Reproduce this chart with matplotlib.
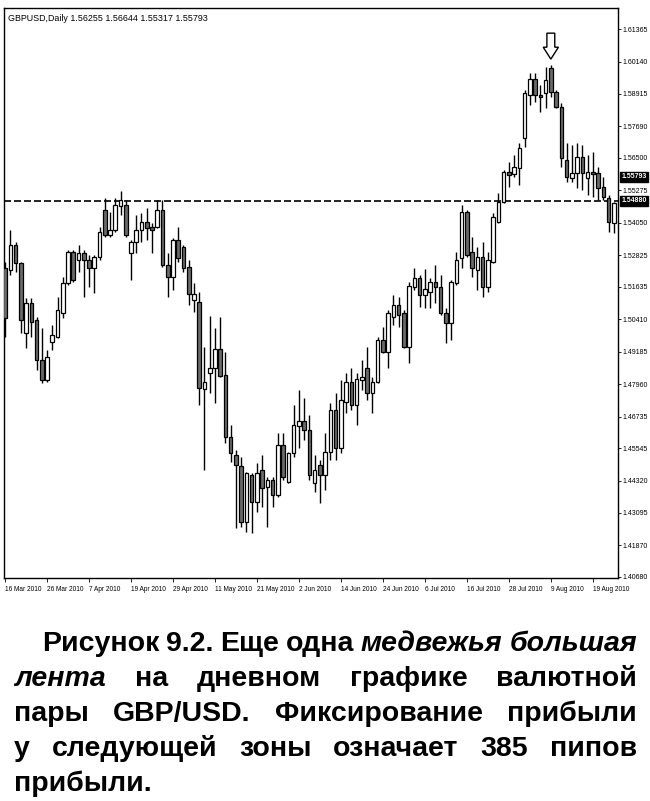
import numpy as np
import matplotlib
matplotlib.use('Agg')
import matplotlib.pyplot as plt

# GBPUSD daily bars, 16 Mar 2010 .. 24 Aug 2010
opens = [1.5234, 1.5227, 1.5321, 1.5253, 1.4989, 1.5102, 1.5038, 1.4887, 1.4811, 1.4955,
         1.4974, 1.5064, 1.5178, 1.5295, 1.5264, 1.5291, 1.5264, 1.5234, 1.5276, 1.5453,
         1.5359, 1.5378, 1.5468, 1.5472, 1.5291, 1.5332, 1.5378, 1.5408, 1.5389, 1.5389,
         1.5453, 1.5246, 1.5200, 1.5340, 1.5314, 1.5238, 1.5113, 1.5106, 1.4778, 1.4838,
         1.4857, 1.4929, 1.4830, 1.4596, 1.4528, 1.4487, 1.4275, 1.4453, 1.4351, 1.4472,
         1.4408, 1.4434, 1.4377, 1.4566, 1.4426, 1.4536, 1.4638, 1.4657, 1.4623, 1.4423,
         1.4491, 1.4453, 1.4540, 1.4698, 1.4555, 1.4728, 1.4804, 1.4717, 1.4811, 1.4857,
         1.4762, 1.4804, 1.4962, 1.4917, 1.5049, 1.5095, 1.5064, 1.4936, 1.5163, 1.5197,
         1.5132, 1.5144, 1.5181, 1.5163, 1.5064, 1.5027, 1.5178, 1.5272, 1.5446, 1.5295,
         1.5227, 1.5276, 1.5163, 1.5257, 1.5408, 1.5483, 1.5597, 1.5589, 1.5612, 1.5725,
         1.5887, 1.5948, 1.5887, 1.5895, 1.5989, 1.5899, 1.5842, 1.5642, 1.5574, 1.5593,
         1.5653, 1.5574, 1.5597, 1.5593, 1.5540, 1.5499, 1.5404]
highs = [1.5257, 1.5378, 1.5332, 1.5257, 1.5121, 1.5121, 1.5049, 1.5008, 1.4925, 1.5019,
         1.5125, 1.5200, 1.5302, 1.5302, 1.5321, 1.5302, 1.5283, 1.5283, 1.5389, 1.5499,
         1.5446, 1.5499, 1.5525, 1.5491, 1.5340, 1.5434, 1.5442, 1.5461, 1.5404, 1.5491,
         1.5491, 1.5291, 1.5348, 1.5389, 1.5321, 1.5264, 1.5178, 1.5144, 1.4936, 1.5053,
         1.5008, 1.5049, 1.4917, 1.4642, 1.4547, 1.4521, 1.4464, 1.4460, 1.4498, 1.4528,
         1.4445, 1.4445, 1.4611, 1.4611, 1.4540, 1.4717, 1.4774, 1.4744, 1.4679, 1.4528,
         1.4509, 1.4611, 1.4725, 1.4762, 1.4811, 1.4838, 1.4857, 1.4838, 1.4887, 1.4936,
         1.4823, 1.4974, 1.5012, 1.5076, 1.5132, 1.5125, 1.5076, 1.5181, 1.5234, 1.5208,
         1.5231, 1.5197, 1.5246, 1.5208, 1.5083, 1.5189, 1.5295, 1.5472, 1.5453, 1.5351,
         1.5314, 1.5332, 1.5295, 1.5442, 1.5517, 1.5604, 1.5634, 1.5661, 1.5706, 1.5906,
         1.5970, 1.5970, 1.5925, 1.5993, 1.6001, 1.5906, 1.5857, 1.5706, 1.5699, 1.5706,
         1.5699, 1.5661, 1.5672, 1.5616, 1.5578, 1.5510, 1.5483]
lows = [1.4974, 1.5208, 1.5219, 1.4989, 1.4932, 1.4974, 1.4849, 1.4800, 1.4804, 1.4925,
        1.4970, 1.5046, 1.5170, 1.5181, 1.5219, 1.5125, 1.5163, 1.5140, 1.5264, 1.5351,
        1.5351, 1.5370, 1.5434, 1.5351, 1.5189, 1.5291, 1.5332, 1.5340, 1.5291, 1.5385,
        1.5238, 1.5125, 1.5151, 1.5257, 1.5219, 1.5095, 1.5068, 1.4717, 1.4472, 1.4762,
        1.4725, 1.4823, 1.4574, 1.4502, 1.4253, 1.4257, 1.4238, 1.4234, 1.4313, 1.4332,
        1.4257, 1.4332, 1.4370, 1.4434, 1.4423, 1.4521, 1.4555, 1.4585, 1.4434, 1.4389,
        1.4347, 1.4396, 1.4509, 1.4509, 1.4536, 1.4687, 1.4698, 1.4642, 1.4774, 1.4736,
        1.4687, 1.4800, 1.4913, 1.4857, 1.5019, 1.5012, 1.4932, 1.4876, 1.5151, 1.5087,
        1.5083, 1.5083, 1.5102, 1.5057, 1.4951, 1.4962, 1.5170, 1.5234, 1.5276, 1.5200,
        1.5151, 1.5125, 1.5144, 1.5253, 1.5404, 1.5480, 1.5540, 1.5578, 1.5548, 1.5691,
        1.5850, 1.5861, 1.5823, 1.5838, 1.5880, 1.5838, 1.5616, 1.5559, 1.5559, 1.5536,
        1.5529, 1.5510, 1.5502, 1.5491, 1.5491, 1.5370, 1.5366]
closes = [1.5046, 1.5321, 1.5253, 1.5038, 1.5102, 1.5030, 1.4887, 1.4811, 1.4898, 1.4981,
          1.5076, 1.5178, 1.5295, 1.5189, 1.5291, 1.5264, 1.5234, 1.5276, 1.5370, 1.5359,
          1.5378, 1.5472, 1.5491, 1.5359, 1.5332, 1.5378, 1.5408, 1.5385, 1.5378, 1.5453,
          1.5246, 1.5200, 1.5340, 1.5272, 1.5234, 1.5136, 1.5136, 1.4781, 1.4804, 1.4857,
          1.4929, 1.4827, 1.4596, 1.4536, 1.4491, 1.4275, 1.4460, 1.4351, 1.4460, 1.4404,
          1.4434, 1.4377, 1.4566, 1.4445, 1.4536, 1.4642, 1.4657, 1.4623, 1.4453, 1.4472,
          1.4453, 1.4540, 1.4698, 1.4555, 1.4736, 1.4804, 1.4717, 1.4815, 1.4823, 1.4762,
          1.4804, 1.4962, 1.4917, 1.5064, 1.5095, 1.5057, 1.4936, 1.5166, 1.5197, 1.5132,
          1.5155, 1.5181, 1.5163, 1.5064, 1.5027, 1.5181, 1.5264, 1.5446, 1.5283, 1.5234,
          1.5276, 1.5163, 1.5264, 1.5427, 1.5483, 1.5597, 1.5585, 1.5616, 1.5687, 1.5895,
          1.5948, 1.5887, 1.5880, 1.5944, 1.5899, 1.5842, 1.5650, 1.5578, 1.5593, 1.5653,
          1.5593, 1.5597, 1.5589, 1.5536, 1.5502, 1.5408, 1.5480]

date_labels = ['16 Mar 2010', '26 Mar 2010', '7 Apr 2010', '19 Apr 2010', '29 Apr 2010',
               '11 May 2010', '21 May 2010', '2 Jun 2010', '14 Jun 2010', '24 Jun 2010',
               '6 Jul 2010', '16 Jul 2010', '28 Jul 2010', '9 Aug 2010', '19 Aug 2010']
bars_per_label = 8

price_ticks = [1.61365, 1.60140, 1.58915, 1.57690, 1.56500, 1.55275, 1.54050, 1.52825,
               1.51635, 1.50410, 1.49185, 1.47960, 1.46735, 1.45545, 1.44320, 1.43095,
               1.41870, 1.40680]
level = 1.54880
last_price = 1.55793
title = 'GBPUSD,Daily 1.56255 1.56644 1.55317 1.55793'
arrow_bar = 104

# caption: (word, italic) per line, justified between left/right px, baseline px
caption = [
    ([('Рисунок', 0), ('9.2.', 0), ('Еще', 0), ('одна', 0), ('медвежья', 1), ('большая', 1)], 42, 637, 651),
    ([('лента', 1), ('на', 0), ('дневном', 0), ('графике', 0), ('валютной', 0)], 14, 637, 686),
    ([('пары', 0), ('GBP/USD.', 0), ('Фиксирование', 0), ('прибыли', 0)], 14, 637, 721),
    ([('у', 0), ('следующей', 0), ('зоны', 0), ('означает', 0), ('385', 0), ('пипов', 0)], 14, 637, 756),
    ([('прибыли.', 0)], 14, None, 791),
]

W, H = 650, 801
fig = plt.figure(figsize=(W / 100, H / 100), dpi=100)
ax = fig.add_axes([4 / W, 1 - 578 / H, 614 / W, 570 / H])

x = np.arange(len(opens))
o = np.array(opens)
c = np.array(closes)
up = c >= o
ax.vlines(x, lows, highs, color='black', lw=1.0, zorder=2)
ax.bar(x[up], (c - o)[up], bottom=o[up], width=0.68, facecolor='white',
       edgecolor='black', lw=0.9, zorder=3)
ax.bar(x[~up], (c - o)[~up], bottom=o[~up], width=0.68, facecolor='#6a6a6a',
       edgecolor='black', lw=0.9, zorder=3)

ax.axhline(level, color='black', lw=1.2, ls=(0, (4.2, 1.8)), zorder=1)

# hollow arrow above the top bar
tip = highs[arrow_bar] + 0.0022
alen = 0.0098
ax.arrow(arrow_bar, tip + alen, 0, -alen, width=1.5, head_width=2.9, head_length=0.0045,
         length_includes_head=True, fc='white', ec='black', lw=1.0, zorder=4)

ax.set_xlim(-0.2, 116.8)
ax.set_ylim(1.4064, 1.6216)

ax.set_xticks(np.arange(len(date_labels)) * bars_per_label)
ax.set_xticklabels(date_labels, ha='left', fontsize=4.7, family='Liberation Sans')
ax.tick_params(axis='x', direction='out', length=3, width=0.6, pad=3)

ax.yaxis.tick_right()
ax.set_yticks(price_ticks)
ax.set_yticklabels(['%.5f' % p for p in price_ticks], fontsize=5, family='Liberation Sans')
ax.tick_params(axis='y', direction='out', length=2.5, width=0.6, pad=1)
for s in ax.spines.values():
    s.set_linewidth(1.0)

ytrans = ax.get_yaxis_transform()
for p in (last_price, level):
    ax.text(1.006, p, '%.5f' % p, transform=ytrans, ha='left', va='center', fontsize=5,
            color='white', fontweight='bold', family='Liberation Sans', clip_on=False,
            bbox=dict(facecolor='black', edgecolor='black', pad=1.0))

ax.annotate(title, xy=(0, 1), xycoords='axes fraction', xytext=(3, -4),
            textcoords='offset points', ha='left', va='top', fontsize=6.4,
            family='Liberation Sans')

# justified bold caption under the chart
renderer = fig.canvas.get_renderer()
for words, left, right, base in caption:
    items = []
    for w, it in words:
        t = fig.text(0, 1 - base / H, w, fontsize=20.5, fontweight='bold',
                     fontstyle='italic' if it else 'normal', family='Liberation Sans',
                     va='baseline', ha='left')
        items.append((t, t.get_window_extent(renderer).width))
    total = sum(wd for _, wd in items)
    gap = (right - left - total) / (len(items) - 1) if right and len(items) > 1 else 0
    xpos = left
    for t, wd in items:
        t.set_x(xpos / W)
        xpos += wd + gap

fig.savefig('out.png', dpi=100)
